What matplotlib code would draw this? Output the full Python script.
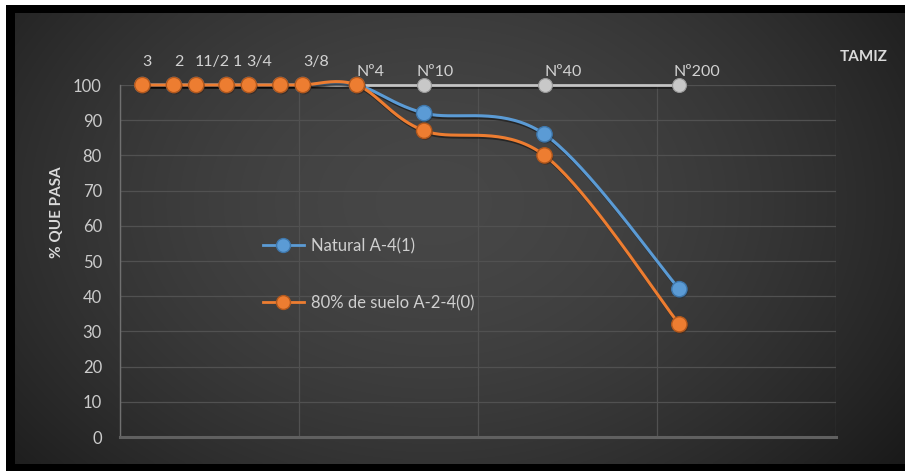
import numpy as np
import matplotlib
matplotlib.use("Agg")
import matplotlib.pyplot as plt
from matplotlib import patheffects as pe
from matplotlib.patches import Rectangle

# Sieve series and passing percentages
sieve_names = ["3", "2", "11/2", "1", "3/4", "1/2", "3/8", "Nº4", "Nº10", "Nº40", "Nº200"]
sieve_labels = ["3", "2", "11/2", "1", "3/4", "", "3/8", "Nº4", "Nº10", "Nº40", "Nº200"]
openings_mm = [75.0, 50.0, 37.5, 25.4, 19.05, 12.7, 9.525, 4.75, 2.0, 0.425, 0.075]
sieve_row = [100, 100, 100, 100, 100, 100, 100, 100, 100, 100, 100]
natural = [100, 100, 100, 100, 100, 100, 100, 100, 92, 86, 42]
mezcla = [100, 100, 100, 100, 100, 100, 100, 100, 87, 80, 32]
series_names = ["Natural A-4(1)", "80% de suelo A-2-4(0)"]
y_ticks = [0, 10, 20, 30, 40, 50, 60, 70, 80, 90, 100]

W, H = 905, 471
plt.rcParams["font.family"] = ["Lato", "DejaVu Sans"]

fig = plt.figure(figsize=(W / 100, H / 100), dpi=100, facecolor="white")


def fx(px):
    return px / W


def fy(py):
    return 1 - py / H


# Black frame and dark gradient backdrop
bg = fig.add_axes([0, 0, 1, 1], zorder=-10)
bg.add_patch(Rectangle((6, 5), W - 6, H - 5, facecolor="black", edgecolor="none", zorder=0))
gx0, gx1, gy0, gy1 = 15, W, 13, 464
u = np.linspace(0, 1, 400)
v = np.linspace(0, 1, 200)
U, V = np.meshgrid(u, v)
r = np.sqrt(((U - 0.47) / 0.55) ** 2 + ((V - 0.42) / 0.8) ** 2)
val = 0.278 - 0.13 * np.clip(r, 0, 1.3) ** 1.7
img = np.dstack([val, val, val])
bg.imshow(img, extent=(gx0, gx1, gy1, gy0), aspect="auto", interpolation="bicubic", zorder=1)
bg.set_xlim(0, W)
bg.set_ylim(H, 0)
bg.axis("off")

# Main plot
ax = fig.add_axes([fx(120), fy(437), fx(836) - fx(120), fy(85) - fy(437)])
ax.set_facecolor("none")
ax.set_xscale("log")
ax.set_xlim(100, 0.01)
ax.set_ylim(0, 100)
ax.set_yticks(y_ticks)
ax.tick_params(axis="y", length=0, pad=13, labelsize=12, labelcolor="#cbcbcb")
ax.tick_params(axis="x", which="both", length=0, labelbottom=False)
ax.set_xticks([100, 10, 1, 0.1, 0.01])
ax.minorticks_off()
ax.grid(True, axis="both", color="#515151", linewidth=0.9)
for s in ["top", "right"]:
    ax.spines[s].set_visible(False)
ax.spines["left"].set_color("#707070")
ax.spines["left"].set_linewidth(1.0)
ax.spines["bottom"].set_color("#606060")
ax.spines["bottom"].set_linewidth(2.2)
ax.set_axisbelow(True)


def smooth(xs, ys, n=40):
    """Cardinal-spline smoothing computed in display space."""
    pts = ax.transData.transform(np.column_stack([xs, ys]))
    P = np.vstack([pts[0], pts, pts[-1]])
    out = []
    for i in range(1, len(P) - 2):
        p0, p1, p2, p3 = P[i - 1], P[i], P[i + 1], P[i + 2]
        c1 = p1 + (p2 - p0) / 6
        c2 = p2 - (p3 - p1) / 6
        t = np.linspace(0, 1, n)[:, None]
        seg = ((1 - t) ** 3) * p1 + 3 * ((1 - t) ** 2) * t * c1 + 3 * (1 - t) * t ** 2 * c2 + t ** 3 * p2
        out.append(seg if i == 1 else seg[1:])
    out = np.vstack(out)
    d = ax.transData.inverted().transform(out)
    return d[:, 0], d[:, 1]


shadow = [pe.SimpleLineShadow(offset=(0.8, -1.4), shadow_color="black", alpha=0.45), pe.Normal()]

# Sieve reference row along 100 %
ax.plot(openings_mm, sieve_row, color="#c4c4c4", linewidth=2.0, zorder=3,
        path_effects=shadow, clip_on=False)
ax.plot(openings_mm, sieve_row, linestyle="none", marker="o", markersize=10,
        markerfacecolor="#c8c8c8", markeredgecolor="#9a9a9a", markeredgewidth=0.8,
        zorder=3.5, clip_on=False)

blue = "#5b9bd5"
orange = "#ed7d31"
for ys, col, edge, name, z in [(natural, blue, "#3f78ad", series_names[0], 4),
                                (mezcla, orange, "#b3581c", series_names[1], 5)]:
    sx, sy = smooth(openings_mm, ys)
    ax.plot(sx, sy, color=col, linewidth=2.2, zorder=z, path_effects=shadow, clip_on=False)
    ax.plot(openings_mm, ys, linestyle="none", marker="o", markersize=11,
            markerfacecolor=col, markeredgecolor=edge, markeredgewidth=1.0,
            zorder=z + 0.5, clip_on=False,
            path_effects=[pe.SimplePatchShadow(offset=(0.8, -1.2), alpha=0.5), pe.Normal()])
    ax.plot([], [], color=col, linewidth=2.0, marker="o", markersize=10,
            markerfacecolor=col, markeredgecolor=edge, label=name)

# Sieve labels above the 100 % row
nudge = {"11/2": -2, "1": 6, "3/4": -3, "Nº10": -8, "Nº200": -6}
for xm, yv, lab in zip(openings_mm, sieve_row, sieve_labels):
    if not lab:
        continue
    dy = 6 if lab.startswith("Nº") else 16
    dx = nudge.get(lab, 0)
    ax.annotate(lab, (xm, yv), xytext=(dx * 0.72, dy * 0.72), textcoords="offset points",
                ha="left", va="bottom", fontsize=11.5, color="#d2d2d2", clip_on=False)

fig.text(fx(864), fy(57), "TAMIZ", ha="center", va="center", fontsize=11,
         fontweight="bold", color="#dadada")
fig.text(fx(57), fy(212), "% QUE PASA", ha="center", va="center", rotation=90,
         fontsize=11, fontweight="bold", color="#dadada")

leg = ax.legend(loc="upper left", bbox_to_anchor=(fx(263), fy(238)),
                bbox_transform=fig.transFigure, frameon=False, fontsize=12,
                labelcolor="#cfcfcf", handlelength=2.45, handletextpad=0.45,
                labelspacing=2.45, borderpad=0, borderaxespad=0)

fig.savefig("out.png", dpi=100, facecolor=fig.get_facecolor())
